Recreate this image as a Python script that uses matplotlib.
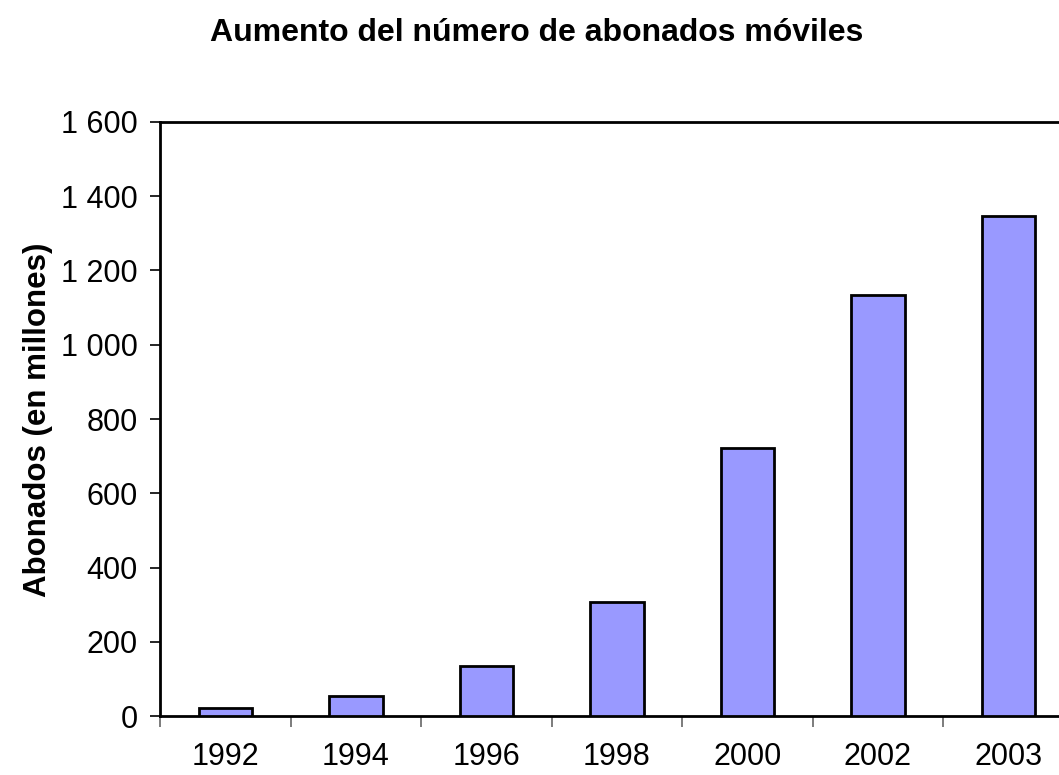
import matplotlib.pyplot as plt
import numpy as np
from matplotlib.ticker import FuncFormatter

plt.rcParams['font.family'] = ['Liberation Sans', 'DejaVu Sans']

years = ['1992', '1994', '1996', '1998', '2000', '2002', '2003']
subscribers = [22, 55, 135, 307, 722, 1134, 1348]


def thousands(v, pos):
    return f'{int(v):,}'.replace(',', ' ')


fig = plt.figure(figsize=(10.59, 7.75), dpi=100)
ax = fig.add_axes([0.1511, 0.0761, 0.8626, 0.7665])

x = np.arange(len(years)) + 0.5
ax.bar(x, subscribers, width=0.41, color='#9999ff', edgecolor='black', linewidth=2, zorder=3)

ax.set_xlim(0, len(years))
ax.set_ylim(0, 1600)
ax.set_yticks(np.arange(0, 1601, 200))
ax.yaxis.set_major_formatter(FuncFormatter(thousands))

# labels at bar centres, tick marks at category boundaries
ax.set_xticks(x)
ax.set_xticklabels(years)
ax.set_xticks(np.arange(0, len(years) + 1), minor=True)
ax.tick_params(axis='x', which='major', length=0, pad=19, labelsize=22)
ax.tick_params(axis='x', which='minor', length=8, width=1.2, color='#666666', direction='out')
ax.tick_params(axis='y', length=7, width=1.2, labelsize=22, pad=9)

for s in ax.spines.values():
    s.set_linewidth(2)

fig.text(0.036, 0.458, 'Abonados (en millones)', rotation=90,
         ha='center', va='center', fontsize=22.5, fontweight='bold')
fig.text(0.507, 0.957, 'Aumento del número de abonados móviles',
         ha='center', va='center', fontsize=23, fontweight='bold')

fig.savefig('out.png', dpi=100)
